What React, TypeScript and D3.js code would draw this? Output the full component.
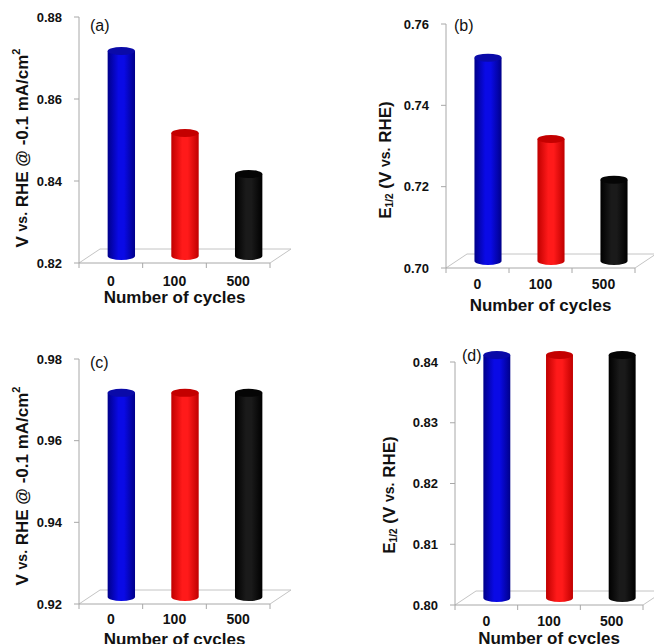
import React from 'react';
import * as d3 from 'd3';

// data
const cycles = ['0', '100', '500'];
const onsetBefore = [0.87, 0.85, 0.84]; // (a)
const halfWaveBefore = [0.75, 0.73, 0.72]; // (b)
const onsetAfter = [0.97, 0.97, 0.97]; // (c)
const halfWaveAfter = [0.84, 0.84, 0.84]; // (d)

const ticksA = [0.82, 0.84, 0.86, 0.88];
const ticksB = [0.7, 0.72, 0.74, 0.76];
const ticksC = [0.92, 0.94, 0.96, 0.98];
const ticksD = [0.8, 0.81, 0.82, 0.83, 0.84];

const barColors = [
  { edge: '#00008a', mid: '#0a0ae6', top: '#0a0aa8' },
  { edge: '#c00000', mid: '#ff1a1a', top: '#c40000' },
  { edge: '#000000', mid: '#1a1a1a', top: '#050505' },
];

const FONT = 'Arial, "Liberation Sans", Helvetica, sans-serif';
const DEPTH_X = 21;
const DEPTH_Y = -14;

type PanelProps = {
  id: string;
  label: string;
  values: number[];
  ticks: number[];
  titleKind: 'onset' | 'half';
  x0: number;
  x1: number;
  yTop: number;
  yBottom: number;
  labelX: number;
  labelY: number;
  titleX: number;
  titleY: number;
  catY: number;
  axisTitleY: number;
};

const Panel = (p: PanelProps) => {
  const x = d3.scaleBand<string>().domain(cycles).range([p.x0, p.x1]).padding(0);
  const y = d3
    .scaleLinear()
    .domain([p.ticks[0], p.ticks[p.ticks.length - 1]])
    .range([p.yBottom, p.yTop]);
  const bw = x.bandwidth() * 0.43;
  const ry = 4;
  const base = y(p.ticks[0]) + DEPTH_Y / 2;
  const fmt = d3.format('.2f');
  const midX = (p.x0 + p.x1) / 2;

  return (
    <g>
      {/* floor */}
      <path
        d={`M${p.x0},${p.yBottom}L${p.x0 + DEPTH_X},${p.yBottom + DEPTH_Y}L${p.x1 + DEPTH_X},${p.yBottom + DEPTH_Y}L${p.x1},${p.yBottom}`}
        fill="none"
        stroke="#c4c4c4"
        strokeWidth={1}
      />
      <line x1={p.x0} x2={p.x1} y1={p.yBottom} y2={p.yBottom} stroke="#a8a8a8" />
      {[...cycles.map((c) => x(c) as number), p.x1].map((tx, i) => (
        <line key={i} x1={tx} x2={tx} y1={p.yBottom} y2={p.yBottom + 5} stroke="#a8a8a8" />
      ))}
      {/* y axis */}
      <line x1={p.x0} x2={p.x0} y1={p.yTop} y2={p.yBottom} stroke="#a8a8a8" />
      {p.ticks.map((t) => (
        <g key={t}>
          <line x1={p.x0 - 5} x2={p.x0} y1={y(t)} y2={y(t)} stroke="#a8a8a8" />
          <text
            x={p.x0 - 17}
            y={y(t)}
            textAnchor="end"
            dominantBaseline="central"
            fontFamily={FONT}
            fontWeight="bold"
            fontSize={13}
            fill="#111"
          >
            {fmt(t)}
          </text>
        </g>
      ))}
      {/* cylinders */}
      {p.values.map((v, i) => {
        const cx = (x(cycles[i]) as number) + x.bandwidth() / 2 + DEPTH_X / 2;
        const top = y(v) + DEPTH_Y / 2;
        const col = barColors[i];
        const gid = `${p.id}-g${i}`;
        return (
          <g key={i}>
            <defs>
              <linearGradient id={gid} x1="0" x2="1" y1="0" y2="0">
                <stop offset="0" stopColor={col.edge} />
                <stop offset="0.4" stopColor={col.mid} />
                <stop offset="0.6" stopColor={col.mid} />
                <stop offset="1" stopColor={col.edge} />
              </linearGradient>
            </defs>
            <path
              d={`M${cx - bw / 2},${top}L${cx - bw / 2},${base}A${bw / 2},${ry} 0 0 0 ${cx + bw / 2},${base}L${cx + bw / 2},${top}Z`}
              fill={`url(#${gid})`}
            />
            <ellipse cx={cx} cy={top} rx={bw / 2} ry={ry} fill={col.top} />
          </g>
        );
      })}
      {/* category labels */}
      {cycles.map((c) => (
        <text
          key={c}
          x={(x(c) as number) + x.bandwidth() / 2}
          y={p.catY}
          textAnchor="middle"
          dominantBaseline="central"
          fontFamily={FONT}
          fontWeight="bold"
          fontSize={14}
          fill="#111"
        >
          {c}
        </text>
      ))}
      <text
        x={midX}
        y={p.axisTitleY}
        textAnchor="middle"
        dominantBaseline="central"
        fontFamily={FONT}
        fontWeight="bold"
        fontSize={17}
        fill="#111"
      >
        Number of cycles
      </text>
      {/* y title */}
      <text
        transform={`translate(${p.titleX},${p.titleY}) rotate(-90)`}
        textAnchor="middle"
        dominantBaseline="central"
        fontFamily={FONT}
        fontWeight="bold"
        fontSize={17}
        fill="#111"
      >
        {p.titleKind === 'onset' ? (
          <>
            V <tspan fontSize={14}>vs.</tspan> RHE @ -0.1 mA/cm
            <tspan fontSize={11} dy={-6}>
              2
            </tspan>
          </>
        ) : (
          <>
            E
            <tspan fontSize={10} dy={4}>
              1/2
            </tspan>
            <tspan dy={-4}> (V </tspan>
            <tspan fontSize={14}>vs.</tspan> RHE)
          </>
        )}
      </text>
      <text
        x={p.labelX}
        y={p.labelY}
        dominantBaseline="central"
        fontFamily={FONT}
        fontSize={16}
        fill="#111"
      >
        {p.label}
      </text>
    </g>
  );
};

const App = () => {
  return (
    <svg
      width={654}
      height={644}
      style={{ position: 'absolute', left: 0, top: 0, background: '#fff' }}
    >
      <rect width={654} height={644} fill="#fff" />
      <Panel
        id="a"
        label="(a)"
        values={onsetBefore}
        ticks={ticksA}
        titleKind="onset"
        x0={79}
        x1={270}
        yTop={17}
        yBottom={263}
        labelX={90}
        labelY={25}
        titleX={22}
        titleY={148}
        catY={281}
        axisTitleY={297}
      />
      <Panel
        id="b"
        label="(b)"
        values={halfWaveBefore}
        ticks={ticksB}
        titleKind="half"
        x0={446}
        x1={635}
        yTop={24}
        yBottom={268}
        labelX={454}
        labelY={25}
        titleX={385}
        titleY={160}
        catY={284}
        axisTitleY={305}
      />
      <Panel
        id="c"
        label="(c)"
        values={onsetAfter}
        ticks={ticksC}
        titleKind="onset"
        x0={79}
        x1={270}
        yTop={359}
        yBottom={604}
        labelX={90}
        labelY={362}
        titleX={22}
        titleY={486}
        catY={619}
        axisTitleY={639}
      />
      <Panel
        id="d"
        label="(d)"
        values={halfWaveAfter}
        ticks={ticksD}
        titleKind="half"
        x0={455}
        x1={643}
        yTop={362}
        yBottom={605}
        labelX={462}
        labelY={355}
        titleX={389}
        titleY={495}
        catY={621}
        axisTitleY={638}
      />
    </svg>
  );
};

export default App;
